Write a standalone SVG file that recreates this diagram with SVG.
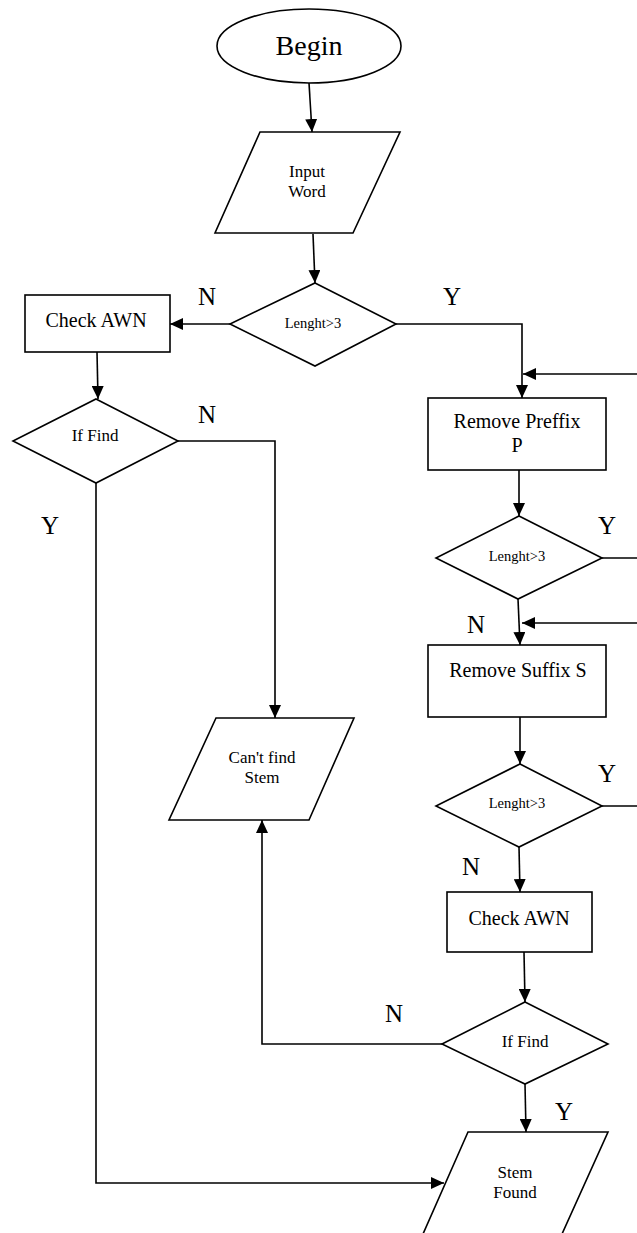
<svg xmlns="http://www.w3.org/2000/svg" width="637" height="1233" viewBox="0 0 637 1233">
<style>
.s{fill:#fff;stroke:#000;stroke-width:1.6}
.c{fill:none;stroke:#000;stroke-width:1.6}
text{font-family:"Liberation Serif","Times New Roman",serif;fill:#000;text-anchor:middle}
.b{font-size:28px}
.m{font-size:20px}
.p{font-size:17px}
.d{font-size:14.5px}
.l{font-size:25px}
</style>
<defs>
<marker id="a" markerUnits="userSpaceOnUse" markerWidth="14" markerHeight="12" refX="13" refY="6" orient="auto">
<path d="M0,0 L13,6 L0,12 z" fill="#000"/>
</marker>
</defs>
<rect width="637" height="1233" fill="#fff"/>
<g id="connectors">
<path class="c" d="M309,83 L312,132" marker-end="url(#a)"/>
<path class="c" d="M313,234 L315,283" marker-end="url(#a)"/>
<path class="c" d="M230,324 L170,324" marker-end="url(#a)"/>
<path class="c" d="M396,324 L522,324 L522,398" marker-end="url(#a)"/>
<path class="c" d="M640,374 L523,374" marker-end="url(#a)"/>
<path class="c" d="M519,470 L519,516" marker-end="url(#a)"/>
<path class="c" d="M602,558 L640,558"/>
<path class="c" d="M518,599 L520,645" marker-end="url(#a)"/>
<path class="c" d="M640,623 L522,623" marker-end="url(#a)"/>
<path class="c" d="M520,717 L520,764" marker-end="url(#a)"/>
<path class="c" d="M602,806 L640,806"/>
<path class="c" d="M519,847 L520,892" marker-end="url(#a)"/>
<path class="c" d="M524,952 L525,1002" marker-end="url(#a)"/>
<path class="c" d="M525,1084 L526,1132" marker-end="url(#a)"/>
<path class="c" d="M442,1044 L262,1044 L262,820" marker-end="url(#a)"/>
<path class="c" d="M97,352 L98,399" marker-end="url(#a)"/>
<path class="c" d="M178,441 L275,441 L275,718" marker-end="url(#a)"/>
<path class="c" d="M96,483 L96,1183 L444,1183" marker-end="url(#a)"/>
<text class="l" x="207" y="305">N</text>
<text class="l" x="452" y="305">Y</text>
<text class="l" x="207" y="423">N</text>
<text class="l" x="50" y="534">Y</text>
<text class="l" x="607" y="534">Y</text>
<text class="l" x="476" y="633">N</text>
<text class="l" x="607" y="782">Y</text>
<text class="l" x="471" y="875">N</text>
<text class="l" x="394" y="1022">N</text>
<text class="l" x="564" y="1120">Y</text>
</g>
<g id="begin">
<ellipse class="s" cx="309" cy="46" rx="92" ry="37"/>
<text class="b" x="309" y="55">Begin</text>
</g>
<g id="input-word">
<polygon class="s" points="260,132 400,132 353,233 215,233"/>
<text class="p" x="307" y="177">Input</text>
<text class="p" x="307" y="197">Word</text>
</g>
<g id="decision-length-1">
<polygon class="s" points="315,283 396,324 315,366 230,324"/>
<text class="d" x="313" y="328">Lenght&gt;3</text>
</g>
<g id="check-awn-1">
<rect class="s" x="25" y="295" width="145" height="57"/>
<text class="m" x="96" y="327">Check AWN</text>
</g>
<g id="if-find-1">
<polygon class="s" points="96,399 178,441 96,483 13,441"/>
<text class="p" x="95" y="441">If Find</text>
</g>
<g id="remove-prefix">
<rect class="s" x="428" y="398" width="178" height="72"/>
<text class="m" x="517" y="428">Remove Preffix</text>
<text class="m" x="517" y="452">P</text>
</g>
<g id="decision-length-2">
<polygon class="s" points="519,516 602,558 518,599 436,558"/>
<text class="d" x="517" y="561">Lenght&gt;3</text>
</g>
<g id="remove-suffix">
<rect class="s" x="428" y="645" width="178" height="72"/>
<text class="m" x="518" y="677">Remove Suffix S</text>
</g>
<g id="decision-length-3">
<polygon class="s" points="520,764 602,806 519,847 436,806"/>
<text class="d" x="517" y="808">Lenght&gt;3</text>
</g>
<g id="check-awn-2">
<rect class="s" x="447" y="892" width="145" height="60"/>
<text class="m" x="519" y="925">Check AWN</text>
</g>
<g id="if-find-2">
<polygon class="s" points="525,1002 608,1044 525,1084 442,1044"/>
<text class="p" x="525" y="1047">If Find</text>
</g>
<g id="cant-find-stem">
<polygon class="s" points="216,718 354,718 309,820 169,820"/>
<text class="p" x="262" y="763">Can't find</text>
<text class="p" x="262" y="783">Stem</text>
</g>
<g id="stem-found">
<polygon class="s" points="468,1132 608,1132 562,1234 423,1234"/>
<text class="p" x="515" y="1178">Stem</text>
<text class="p" x="515" y="1198">Found</text>
</g>
</svg>
